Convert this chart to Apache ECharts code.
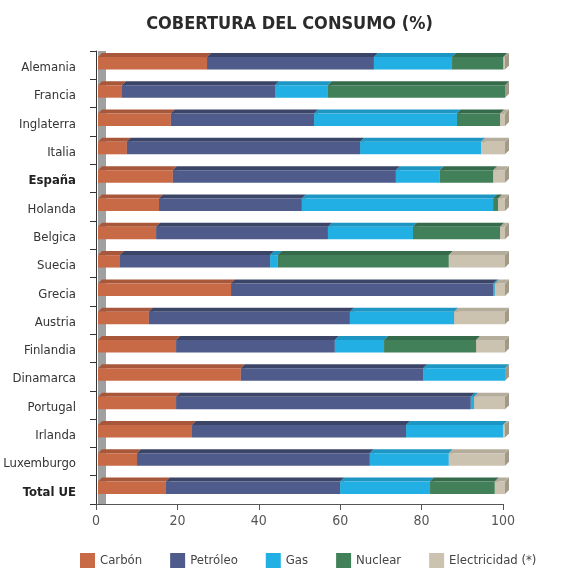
<!DOCTYPE html>
<html>
<head>
<meta charset="utf-8">
<script src="https://cdn.jsdelivr.net/npm/echarts@6/dist/echarts.min.js"></script>
<style>
  html, body { margin: 0; padding: 0; background: #fff; }
  #mychart { width: 579px; height: 569px; }
</style>
</head>
<body>
<div id="mychart"></div>
<script>
// datos (% del consumo)
const paises = ['Alemania', 'Francia', 'Inglaterra', 'Italia', 'España', 'Holanda', 'Belgica', 'Suecia',
  'Grecia', 'Austria', 'Finlandia', 'Dinamarca', 'Portugal', 'Irlanda', 'Luxemburgo', 'Total UE']
const carbon = [26.8, 5.9, 17.9, 7.1, 18.4, 15.0, 14.3, 5.4, 32.7, 12.5, 19.2, 35.1, 19.2, 23.1, 9.6, 16.7]
const petroleo = [41.0, 37.6, 35.2, 57.3, 54.8, 35.1, 42.2, 36.9, 64.4, 49.4, 39.0, 44.8, 72.4, 52.6, 57.2, 42.8]
const gas = [19.2, 13.0, 35.1, 29.7, 10.8, 47.0, 20.9, 1.9, 0.4, 25.6, 12.1, 20.1, 0.8, 23.8, 19.4, 22.1]
const nuclear = [12.6, 43.5, 10.6, 0, 13.1, 1.2, 21.4, 42.0, 0, 0, 22.6, 0, 0, 0, 0, 15.9]
const electricidad = [0.4, 0, 1.2, 5.9, 2.9, 1.7, 1.2, 13.8, 2.5, 12.5, 7.1, 0, 7.6, 0.5, 13.8, 2.5]
const xTicks = [0, 20, 40, 60, 80, 100]

const fuentes = [
  { name: 'Carbón', values: carbon, color: '#C96A47', top: '#A9573A' },
  { name: 'Petróleo', values: petroleo, color: '#4F5B8A', top: '#3B4568' },
  { name: 'Gas', values: gas, color: '#22B0E4', top: '#1D96C4' },
  { name: 'Nuclear', values: nuclear, color: '#42805A', top: '#356A4A' },
  { name: 'Electricidad (*)', values: electricidad, color: '#CBC2B0', top: '#B5AD9B' }
]

const FONT = "'Liberation Sans Narrow', 'Arial Narrow', 'DejaVu Sans Condensed', sans-serif"
const DEPTH = 4

// inicio acumulado de cada tramo
const acum = paises.map(() => 0)
const series = fuentes.map(f => {
  const data = f.values.map((v, i) => {
    const item = [v, i, acum[i]]
    acum[i] += v
    return item
  })
  return {
    name: f.name,
    type: 'custom',
    z: 5,
    itemStyle: { color: f.color },
    encode: { x: [0, 2], y: 1 },
    data: data,
    renderItem: (params, api) => {
      const v = api.value(0)
      if (!v) return null
      const s = api.value(2)
      const cat = api.value(1)
      const p0 = api.coord([s, cat])
      const p1 = api.coord([s + v, cat])
      const h = api.size([0, 1])[1] * 0.44
      const x0 = p0[0] + 2
      const x1 = p1[0] + 2
      const y0 = p0[1] - h / 2 - 2
      return {
        type: 'group',
        children: [
          {
            type: 'polygon',
            shape: { points: [[x1, y0], [x1 + DEPTH, y0 - DEPTH], [x1 + DEPTH, y0 + h - DEPTH], [x1, y0 + h]] },
            style: { fill: '#A29A88' }
          },
          {
            type: 'polygon',
            shape: { points: [[x0, y0], [x0 + DEPTH, y0 - DEPTH], [x1 + DEPTH, y0 - DEPTH], [x1, y0]] },
            style: { fill: f.top }
          },
          {
            type: 'rect',
            shape: { x: x0, y: y0, width: x1 - x0, height: h },
            style: { fill: f.color }
          }
        ]
      }
    }
  }
})

var chartDom = document.getElementById('mychart')
var myChart = echarts.init(chartDom)
var option = {
  animation: false,
  textStyle: { fontFamily: FONT },
  title: {
    text: 'COBERTURA DEL CONSUMO (%)',
    left: 'center',
    top: 10,
    textStyle: { fontFamily: FONT, fontSize: 18, fontWeight: 'bold', color: '#2b2b2b' }
  },
  legend: {
    left: 75,
    top: 548,
    itemWidth: 15,
    itemHeight: 15,
    itemGap: 28,
    icon: 'rect',
    data: fuentes.map(f => f.name),
    textStyle: { fontFamily: FONT, fontSize: 13, color: '#444' }
  },
  grid: { left: 96, right: 76, top: 51, bottom: 65, outerBoundsMode: 'none' },
  xAxis: {
    type: 'value',
    min: 0,
    max: 100,
    interval: 20,
    axisLine: { show: true, lineStyle: { color: '#555', width: 1 } },
    axisTick: { show: true, length: 6, lineStyle: { color: '#555' } },
    splitLine: { show: false },
    axisLabel: {
      fontFamily: FONT,
      fontSize: 14,
      color: '#555',
      margin: 10,
      formatter: v => (xTicks.includes(v) ? String(v) : '')
    }
  },
  yAxis: [
    {
      type: 'category',
      data: paises,
      inverse: true,
      axisLine: { show: true, lineStyle: { color: '#333', width: 1 } },
      axisTick: { show: true, length: 6, lineStyle: { color: '#333' } },
      axisLabel: {
        fontFamily: FONT,
        fontSize: 13,
        color: '#333',
        margin: 20,
        padding: [5, 0, 0, 0],
        formatter: v => (v === 'España' || v === 'Total UE') ? '{b|' + v + '}' : v,
        rich: { b: { fontFamily: FONT, fontSize: 13, fontWeight: 'bold', color: '#222' } }
      }
    },
    {
      // pared gris del efecto 3D
      type: 'category',
      data: paises,
      inverse: true,
      position: 'left',
      offset: -6,
      axisLine: { show: true, lineStyle: { color: '#A0A0A0', width: 8, cap: 'butt' } },
      axisTick: { show: false },
      axisLabel: { show: false }
    }
  ],
  series: series
}
myChart.setOption(option)
</script>
</body>
</html>
